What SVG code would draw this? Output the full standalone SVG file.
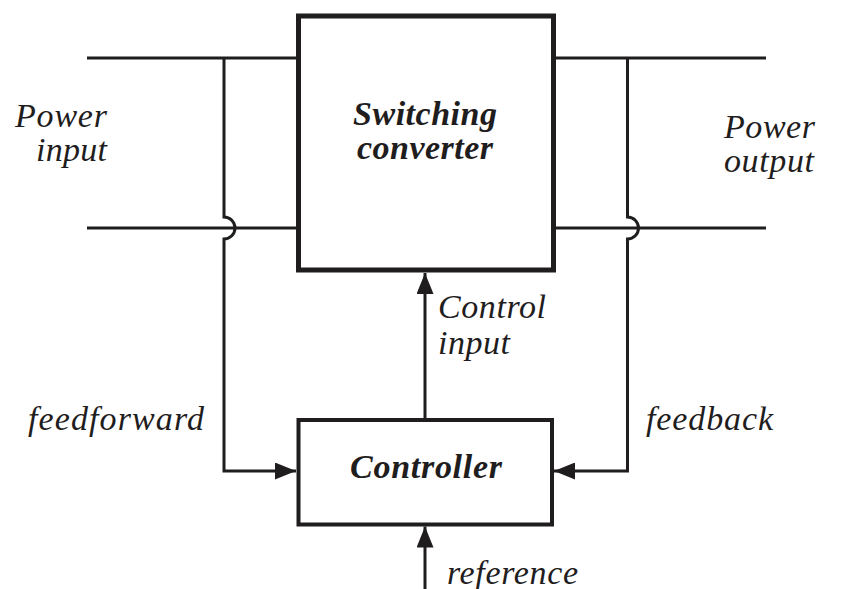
<svg xmlns="http://www.w3.org/2000/svg" width="845" height="589" viewBox="0 0 845 589">
<style>
.t{font-family:"Liberation Serif","Times New Roman",serif;font-style:italic;font-size:34px;fill:#1f1d1d}
.b{font-weight:bold}
.w{fill:none;stroke:#1f1d1d;stroke-width:3}
.box{fill:#fff;stroke:#1f1d1d}
</style>
<defs>
<marker id="ah" markerWidth="21" markerHeight="17" refX="21" refY="8.5" orient="auto" markerUnits="userSpaceOnUse">
<path d="M0,0 L21,8.5 L0,17 Z" fill="#1f1d1d"/>
</marker>
</defs>
<g id="connectors">
<path class="w" d="M87,58 H298"/>
<path class="w" d="M553,58 H766"/>
<path class="w" d="M87,228 H298"/>
<path class="w" d="M553,228 H766"/>
<path class="w" d="M224,58 V217 A11,11 0 0 1 224,239 V471 H296" marker-end="url(#ah)"/>
<path class="w" d="M627.5,58 V217 A11,11 0 0 1 627.5,239 V471 H554" marker-end="url(#ah)"/>
<path class="w" d="M425,420 V273" marker-end="url(#ah)"/>
<path class="w" d="M425,589 V526.5" marker-end="url(#ah)"/>
</g>
<g id="switching-converter">
<rect class="box" x="298.5" y="16" width="255" height="254" stroke-width="5"/>
<text class="t b" x="425" y="125" text-anchor="middle" textLength="144" lengthAdjust="spacing">Switching</text>
<text class="t b" x="425" y="159" text-anchor="middle" textLength="136" lengthAdjust="spacing">converter</text>
</g>
<g id="controller">
<rect class="box" x="298.5" y="420" width="253.5" height="104.5" stroke-width="4"/>
<text class="t b" x="426" y="478" text-anchor="middle" textLength="152" lengthAdjust="spacing">Controller</text>
</g>
<g id="labels">
<text class="t" x="15" y="127" textLength="92" lengthAdjust="spacing">Power</text>
<text class="t" x="36" y="161" textLength="71" lengthAdjust="spacing">input</text>
<text class="t" x="724" y="138" textLength="91" lengthAdjust="spacing">Power</text>
<text class="t" x="724" y="172" textLength="90" lengthAdjust="spacing">output</text>
<text class="t" x="438" y="318" textLength="108" lengthAdjust="spacing">Control</text>
<text class="t" x="438" y="354" textLength="72" lengthAdjust="spacing">input</text>
<text class="t" x="28" y="430" textLength="176" lengthAdjust="spacing">feedforward</text>
<text class="t" x="646" y="430" textLength="127" lengthAdjust="spacing">feedback</text>
<text class="t" x="447" y="584" textLength="131" lengthAdjust="spacing">reference</text>
</g>
</svg>
